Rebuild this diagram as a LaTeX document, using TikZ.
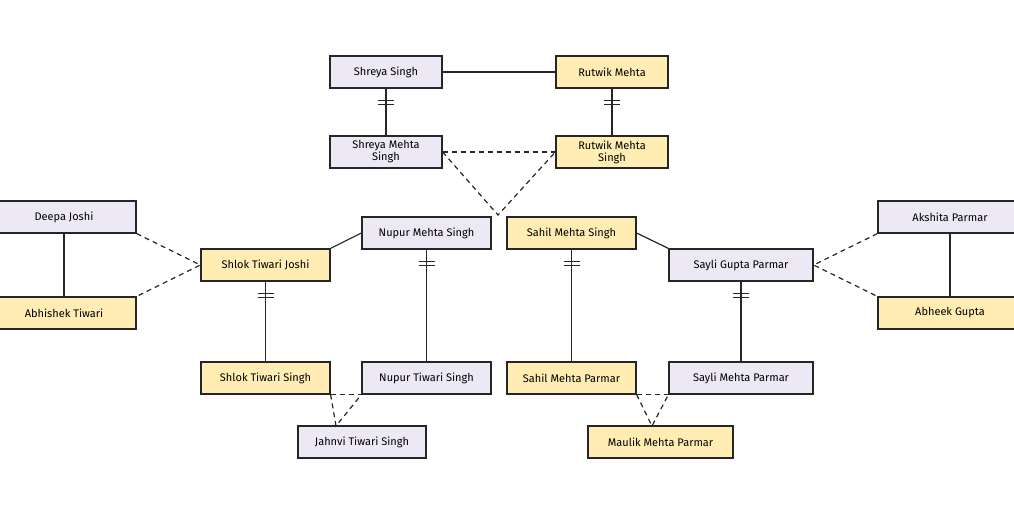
\documentclass[tikz,border=0pt]{standalone}
\usepackage{fontspec}
\setmainfont{Fira Sans}
\usetikzlibrary{decorations.markings}
\begin{document}
\begin{tikzpicture}[x=1pt,y=-1pt,
  box/.style={draw=black!85,line width=1.2pt,minimum height=32pt,inner sep=0pt,font=\fontsize{11}{12}\selectfont,align=center},
  lav/.style={box,fill=lav},
  yel/.style={box,fill=yel},
  ln/.style={line width=1.2pt,draw=black!85},
  dl/.style={ln,dash pattern=on 5pt off 4pt},
  bars/.style={ln,decoration={markings,mark=at position 14pt with {\draw[line width=1.2pt] (-2pt,-8pt)--(-2pt,8pt) (2pt,-8pt)--(2pt,8pt);}},postaction=decorate}]
\useasboundingbox (0,0) rectangle (1014,532);
\definecolor{lav}{HTML}{ECE8F6}\definecolor{yel}{HTML}{FFEDB3}
\node[lav,minimum width=112pt] (ss) at (386,72) {Shreya Singh};
\node[yel,minimum width=112pt] (rm) at (612,72) {Rutwik Mehta};
\node[lav,minimum width=112pt] (sms) at (386,152) {Shreya Mehta\\Singh};
\node[yel,minimum width=112pt] (rms) at (612,152) {Rutwik Mehta\\Singh};
\node[lav,minimum width=129pt] (nms) at (426.5,233) {Nupur Mehta Singh};
\node[yel,minimum width=129pt] (sahms) at (571.5,233) {Sahil Mehta Singh};
\node[lav,minimum width=144pt] (dj) at (64,217) {Deepa Joshi};
\node[yel,minimum width=144pt] (at) at (64,313) {Abhishek Tiwari};
\node[yel,minimum width=129pt] (stj) at (265.5,265) {Shlok Tiwari Joshi};
\node[lav,minimum width=144pt] (sgp) at (741,265) {Sayli Gupta Parmar};
\node[lav,minimum width=144pt] (ap) at (950,217) {Akshita Parmar};
\node[yel,minimum width=144pt] (ag) at (950,313) {Abheek Gupta};
\node[yel,minimum width=129pt] (sts) at (265.5,378) {Shlok Tiwari Singh};
\node[lav,minimum width=129pt] (nts) at (426.5,378) {Nupur Tiwari Singh};
\node[yel,minimum width=129pt] (smp) at (571.5,378) {Sahil Mehta Parmar};
\node[lav,minimum width=144pt] (saymp) at (741,378) {Sayli Mehta Parmar};
\node[lav,minimum width=128pt] (jts) at (362,442) {Jahnvi Tiwari Singh};
\node[yel,minimum width=145pt] (mmp) at (660.5,442) {Maulik Mehta Parmar};
\coordinate (a1) at (498,215);
\coordinate (a2) at (336,426);
\coordinate (a3) at (652,426);
\draw[ln] (ss.east)--(rm.west);
\draw[ln] (dj.south)--(at.north);
\draw[ln] (ap.south)--(ag.north);
\draw[ln] (nms.west)--(stj.north east);
\draw[ln] (sahms.east)--(sgp.north west);
\draw[bars] (ss.south)--(sms.north);
\draw[bars] (rm.south)--(rms.north);
\foreach \u/\v in {stj/sts,nms/nts,sahms/smp,sgp/saymp}
  \draw[bars] (\u.south)--(\v.north);
\draw[dl] (sms.east)--(rms.west);
\draw[dl] (sms.east)--(a1)--(rms.west);
\draw[dl] (dj.south east)--(stj.west)--(at.north east);
\draw[dl] (ap.south west)--(sgp.east)--(ag.north west);
\draw[dl] (sts.south east)--(nts.south west);
\draw[dl] (sts.south east)--(a2)--(nts.south west);
\draw[dl] (smp.south east)--(saymp.south west);
\draw[dl] (smp.south east)--(a3)--(saymp.south west);
\end{tikzpicture}
\end{document}
